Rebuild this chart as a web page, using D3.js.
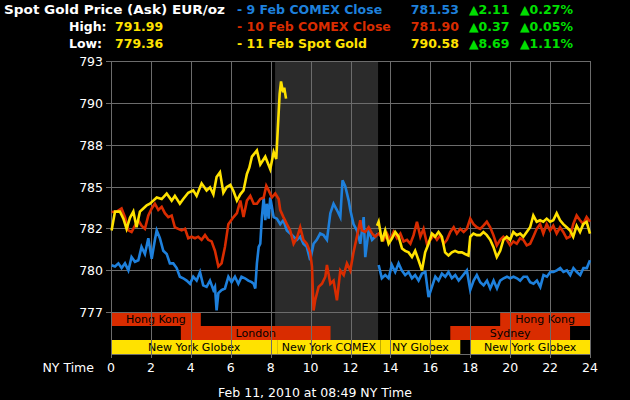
<!DOCTYPE html>
<html>
<head>
<meta charset="utf-8">
<script src="https://cdn.jsdelivr.net/npm/d3@7"></script>
<style>
  body { margin: 0; background: #000; }
  svg { display: block; font-family: "DejaVu Sans", sans-serif; }
</style>
</head>
<body>
<svg id="chart" width="630" height="400"></svg>
<script>
// [hour, price] pairs, null price = gap in the line
const comex9 = [
  [0.03,779.98],[0.2,779.9],[0.37,780.1],[0.53,779.8],[0.7,780.1],[0.87,779.65],[1.03,780.5],[1.2,780.2],
  [1.37,780.3],[1.53,781.15],[1.7,780.7],[1.87,781.7],[2.04,780.4],[2.2,781.6],[2.29,782.2],[2.45,781.7],
  [2.62,780.9],[2.79,780.7],[2.95,780.1],[3.12,780.1],[3.29,779.8],[3.45,779.25],[3.62,779.15],[3.79,779.0],
  [3.96,778.8],[4.12,779.25],[4.29,779.0],[4.46,779.55],[4.62,778.7],[4.79,778.6],[4.96,779.0],[5.13,778.4],
  [5.21,778.6],[5.29,777.1],[5.38,778.2],[5.54,778.4],[5.71,778.5],[5.88,779.25],[6.04,778.9],[6.21,779.25],
  [6.38,778.8],[6.54,779.25],[6.71,779.15],[6.88,779.0],[7.05,778.9],[7.15,778.8],[7.23,778.5],[7.31,780.1],
  [7.4,781.15],[7.48,781.35],[7.56,783.05],[7.65,784.3],[7.73,782.85],[7.81,783.9],[7.9,782.95],[7.98,784.3],
  [8.15,783.05],[8.31,782.95],[8.48,782.6],[8.64,782.85],[8.81,782.2],[8.98,782.0],[9.15,781.8],[9.31,781.6],
  [9.48,781.8],[9.64,781.35],[9.81,781.15],[9.98,780.3],[10.15,781.35],[10.31,781.6],[10.48,782.0],[10.65,781.9],
  [10.82,781.6],[10.99,783.3],[11.15,783.9],[11.32,783.5],[11.49,783.05],[11.6,785.4],[11.74,785.0],[11.91,784.1],
  [11.99,783.5],[12.15,782.6],[12.32,782.2],[12.49,781.35],[12.66,783.05],[12.74,780.5],[12.91,782.2],[13.08,781.6],
  [13.24,781.8],[13.36,782.0],[13.39,null],
  [13.41,780.0],[13.57,779.15],[13.74,779.35],[13.91,779.15],[14.07,780.0],[14.24,779.55],[14.41,780.1],[14.57,779.65],
  [14.74,779.35],[14.91,779.55],[15.08,779.15],[15.24,779.35],[15.41,779.0],[15.58,779.45],[15.75,779.55],[15.91,777.95],
  [16.08,778.6],[16.25,779.25],[16.41,779.0],[16.58,779.45],[16.75,779.25],[16.91,779.55],[17.08,779.15],[17.25,779.35],
  [17.42,779.0],[17.58,779.25],[17.83,779.65],[18.0,778.4],[18.17,779.0],[18.33,779.35],[18.5,778.9],[18.67,778.7],
  [18.84,779.0],[19.0,778.5],[19.17,779.0],[19.34,778.5],[19.5,779.0],[19.67,779.15],[19.84,779.25],[20.0,779.15],
  [20.17,779.25],[20.34,779.15],[20.5,779.0],[20.67,779.25],[20.84,779.25],[21.0,778.9],[21.17,778.8],[21.34,779.0],
  [21.51,778.6],[21.67,779.35],[21.84,779.25],[22.01,779.55],[22.17,779.55],[22.34,779.65],[22.51,779.8],[22.67,779.55],
  [22.84,779.65],[23.01,779.35],[23.17,779.8],[23.34,779.55],[23.51,779.35],[23.67,779.8],[23.84,779.8],[24.0,780.3]
];

const comex10 = [
  [0.03,783.37],[0.28,783.4],[0.53,783.6],[0.7,783.05],[0.87,782.2],[1.03,782.1],[1.2,782.5],[1.37,782.85],
  [1.53,782.5],[1.7,782.3],[1.87,783.15],[2.04,783.6],[2.2,783.9],[2.37,783.5],[2.54,783.7],[2.7,783.3],
  [2.87,783.05],[3.04,783.15],[3.2,782.4],[3.37,782.3],[3.54,782.2],[3.71,782.3],[3.87,781.7],[4.04,781.8],
  [4.21,781.7],[4.37,781.8],[4.54,781.6],[4.71,781.9],[4.87,781.6],[5.04,781.5],[5.21,780.9],[5.38,779.9],
  [5.54,780.1],[5.71,781.15],[5.88,782.6],[6.14,783.05],[6.31,783.3],[6.48,784.1],[6.64,783.05],[6.81,784.1],
  [6.98,784.4],[7.15,783.9],[7.31,783.9],[7.48,784.2],[7.65,784.3],[7.78,785.05],[7.9,784.75],[8.06,784.3],
  [8.23,784.55],[8.4,784.2],[8.48,783.5],[8.64,783.05],[8.81,782.6],[8.98,782.2],[9.15,781.35],[9.31,781.7],
  [9.48,782.4],[9.64,781.6],[9.81,781.35],[9.98,780.8],[10.07,779.9],[10.15,777.1],[10.23,777.75],[10.4,778.6],
  [10.57,778.8],[10.74,779.25],[10.82,780.0],[10.99,778.8],[11.15,779.0],[11.32,777.75],[11.49,779.65],[11.66,779.35],
  [11.82,780.1],[11.99,779.65],[12.15,780.8],[12.32,781.8],[12.49,782.85],[12.57,782.2],[12.74,782.1],[12.91,782.4],
  [13.08,782.0],[13.24,781.8],[13.41,782.0],[13.66,781.6],[13.83,782.0],[13.99,781.6],[14.16,782.1],[14.33,781.7],
  [14.5,782.0],[14.66,781.5],[14.83,781.6],[15.0,781.35],[15.16,781.9],[15.33,782.75],[15.5,781.8],[15.66,782.3],
  [15.83,781.35],[16.0,781.6],[16.17,781.9],[16.33,781.6],[16.5,781.9],[16.67,781.35],[16.83,781.6],[17.0,782.1],
  [17.17,782.4],[17.33,782.0],[17.5,782.3],[17.67,782.1],[17.83,782.3],[18.0,782.95],[18.16,782.6],[18.33,782.4],
  [18.5,782.3],[18.66,782.5],[18.83,782.75],[19.0,782.4],[19.16,781.9],[19.33,781.25],[19.5,781.6],[19.66,781.8],
  [19.83,781.6],[20.0,781.25],[20.16,781.5],[20.33,781.35],[20.5,781.7],[20.66,781.6],[20.83,781.25],[21.0,781.35],
  [21.16,781.8],[21.33,782.3],[21.5,782.6],[21.66,782.0],[21.83,782.6],[22.0,782.2],[22.16,782.5],[22.33,782.0],
  [22.5,782.4],[22.66,782.1],[22.83,781.7],[23.0,781.8],[23.16,782.6],[23.33,783.15],[23.5,782.85],[23.66,782.6],
  [23.83,783.05],[24.0,782.75]
];

const spot11 = [
  [0.03,782.2],[0.2,783.4],[0.45,783.4],[0.62,782.95],[0.78,782.3],[0.95,783.0],[1.12,783.4],[1.28,782.4],
  [1.45,783.4],[1.62,783.6],[1.79,783.8],[1.95,783.9],[2.12,784.1],[2.29,784.3],[2.54,784.2],[2.79,784.55],
  [3.04,784.1],[3.2,784.4],[3.45,783.9],[3.62,784.2],[3.87,784.6],[4.12,784.75],[4.29,784.4],[4.54,785.2],
  [4.79,784.75],[4.96,784.95],[5.13,784.5],[5.29,785.6],[5.46,785.9],[5.63,784.6],[5.79,784.95],[5.98,785.1],
  [6.14,784.7],[6.31,784.1],[6.48,784.5],[6.64,784.75],[6.81,785.8],[6.93,786.2],[7.06,786.9],[7.31,787.3],
  [7.48,786.4],[7.73,786.9],[7.98,786.1],[8.15,787.2],[8.28,786.75],[8.35,788.5],[8.45,790.9],[8.52,791.7],
  [8.62,791.0],[8.68,791.3],[8.77,790.6],[8.8,null],
  [13.33,782.5],[13.41,782.75],[13.58,781.5],[13.74,782.2],[13.91,781.35],[14.08,781.7],[14.24,782.1],[14.41,781.8],
  [14.58,781.05],[14.74,780.9],[14.91,780.8],[15.08,780.5],[15.24,780.9],[15.41,780.3],[15.58,779.65],[15.74,780.8],
  [15.91,781.35],[16.08,782.0],[16.24,781.8],[16.41,782.1],[16.58,781.8],[16.74,780.8],[16.91,780.6],[17.08,780.8],
  [17.24,780.9],[17.41,780.8],[17.58,780.8],[17.74,780.7],[17.91,780.6],[18.0,781.8],[18.16,782.0],[18.33,781.9],
  [18.5,781.9],[18.66,782.1],[18.83,781.9],[19.0,781.6],[19.16,781.15],[19.33,780.5],[19.5,780.9],[19.66,781.6],
  [19.83,781.8],[20.0,781.6],[20.16,782.1],[20.33,781.9],[20.5,782.0],[20.66,781.8],[20.83,782.1],[21.0,782.4],
  [21.16,783.15],[21.33,782.75],[21.5,782.85],[21.66,782.75],[21.83,782.95],[22.0,782.75],[22.16,782.85],[22.33,783.3],
  [22.5,782.85],[22.66,782.6],[22.83,782.4],[23.0,782.2],[23.16,781.8],[23.33,782.5],[23.5,782.1],[23.66,782.6],
  [23.83,782.75],[24.0,782.0]
];

const legendNames = ["- 9 Feb COMEX Close", "- 10 Feb COMEX Close", "- 11 Feb Spot Gold"];
const legendPrices = ["781.53", "781.90", "790.58"];
const legendChanges = ["2.11", "0.37", "8.69"];
const legendPcts = ["0.27%", "0.05%", "1.11%"];
const statLabels = ["High:", "Low:"];
const statValues = ["791.99", "779.36"];

const sessionNames = ["Hong Kong", "London", "New York Globex", "New York COMEX", "NY Globex", "Sydney", "Hong Kong", "New York Globex"];
const sessionStart = [0, 3.5, 0, 8.33, 13.5, 17, 19.5, 18];
const sessionEnd = [4.5, 11, 8.33, 13.5, 17.5, 23, 24, 24];
const sessionRow = [0, 1, 2, 2, 2, 1, 0, 2];
const comexHours = [8.22, 13.38];

const hourTicks = [0, 2, 4, 6, 8, 10, 12, 14, 16, 18, 20, 22, 24];
const priceTicks = [777, 779.67, 782.33, 785, 787.67, 790.33, 793];
const priceLabels = ["777", "780", "782", "785", "788", "790", "793"];

const BLUE = "#1e80dc", RED = "#d92c00", YELLOW = "#ffe200", GREEN = "#00e000", GRID = "#6c6c6c";

const svg = d3.select("#chart");
svg.append("rect").attr("width", 630).attr("height", 400).attr("fill", "#000");

const x = d3.scaleLinear().domain([0, 24]).range([111, 590]);
const y = d3.scaleLinear().domain([777, 793]).range([312, 61]);
const row = d3.scaleBand().domain([0, 1, 2]).range([312, 354]);

// COMEX hours shading
svg.append("rect")
    .attr("x", x(comexHours[0]))
    .attr("y", y(793))
    .attr("width", x(comexHours[1]) - x(comexHours[0]))
    .attr("height", 354 - y(793))
    .attr("fill", "#2b2b2b");

// market session bars
const sessions = sessionNames.map((n, i) => ({ name: n, start: sessionStart[i], end: sessionEnd[i], row: sessionRow[i] }));
svg.append("g").selectAll("rect")
    .data(sessions)
    .enter()
    .append("rect")
    .attr("x", d => x(d.start))
    .attr("y", d => row(d.row))
    .attr("width", d => x(d.end) - x(d.start))
    .attr("height", row.bandwidth())
    .attr("fill", d => d.row === 2 ? YELLOW : RED);

svg.append("g").selectAll("text")
    .data(sessions)
    .enter()
    .append("text")
    .attr("x", d => x((d.start + d.end) / 2))
    .attr("y", d => row(d.row) + row.bandwidth() / 2 + 4)
    .attr("text-anchor", "middle")
    .attr("font-size", 11)
    .attr("fill", "#000")
    .text(d => d.name);

// grid
const grid = svg.append("g").attr("stroke", GRID).attr("stroke-width", 1).attr("shape-rendering", "crispEdges");
grid.selectAll(".v")
    .data(hourTicks)
    .enter()
    .append("line")
    .attr("x1", d => Math.round(x(d)) + 0.5)
    .attr("x2", d => Math.round(x(d)) + 0.5)
    .attr("y1", y(793))
    .attr("y2", 358);
grid.selectAll(".h")
    .data(priceTicks)
    .enter()
    .append("line")
    .attr("x1", 106)
    .attr("x2", x(24))
    .attr("y1", d => Math.round(y(d)) + 0.5)
    .attr("y2", d => Math.round(y(d)) + 0.5);
grid.append("line")
    .attr("x1", x(0)).attr("x2", x(24))
    .attr("y1", 354.5).attr("y2", 354.5);

// axis labels
svg.append("g").selectAll("text")
    .data(priceTicks)
    .enter()
    .append("text")
    .attr("x", 103)
    .attr("y", d => y(d) + 5)
    .attr("text-anchor", "end")
    .attr("font-size", 12.5)
    .attr("fill", "#fff")
    .text((d, i) => priceLabels[i]);

svg.append("g").selectAll("text")
    .data(hourTicks)
    .enter()
    .append("text")
    .attr("x", d => x(d))
    .attr("y", 372)
    .attr("text-anchor", "middle")
    .attr("font-size", 12.5)
    .attr("fill", "#fff")
    .text(d => d);

svg.append("text").attr("x", 94).attr("y", 372).attr("text-anchor", "end")
    .attr("font-size", 12.5).attr("fill", "#fff").text("NY Time");
svg.append("text").attr("x", 315).attr("y", 397).attr("text-anchor", "middle")
    .attr("font-size", 12.5).attr("fill", "#fff").text("Feb 11, 2010 at 08:49 NY Time");

// price lines
const line = d3.line()
    .defined(d => d[1] != null)
    .x(d => x(d[0]))
    .y(d => y(d[1]));

[[comex9, BLUE], [comex10, RED], [spot11, YELLOW]].forEach(([data, color]) => {
    svg.append("path")
        .datum(data)
        .attr("d", line)
        .attr("fill", "none")
        .attr("stroke", color)
        .attr("stroke-width", 2.6)
        .attr("stroke-linejoin", "miter");
});

// header
const rowY = [14, 30.5, 47.5];
const head = svg.append("g").attr("font-size", 12.5).attr("font-weight", "bold");
head.append("text").attr("x", 4).attr("y", rowY[0]).attr("fill", "#fff")
    .attr("textLength", 221).attr("lengthAdjust", "spacingAndGlyphs")
    .text("Spot Gold Price (Ask) EUR/oz");
statLabels.forEach((s, i) => {
    head.append("text").attr("x", 69).attr("y", rowY[i + 1]).attr("fill", "#fff").text(s);
    head.append("text").attr("x", 115).attr("y", rowY[i + 1]).attr("fill", YELLOW).text(statValues[i]);
});
const colors = [BLUE, RED, YELLOW];
legendNames.forEach((n, i) => {
    head.append("text").attr("x", 237).attr("y", rowY[i]).attr("fill", colors[i]).text(n);
    head.append("text").attr("x", 459).attr("y", rowY[i]).attr("text-anchor", "end").attr("fill", colors[i]).text(legendPrices[i]);
    head.append("text").attr("x", 469).attr("y", rowY[i]).attr("fill", GREEN).text("\u25B2" + legendChanges[i]);
    head.append("text").attr("x", 520).attr("y", rowY[i]).attr("fill", GREEN).text("\u25B2" + legendPcts[i]);
});
</script>
</body>
</html>
